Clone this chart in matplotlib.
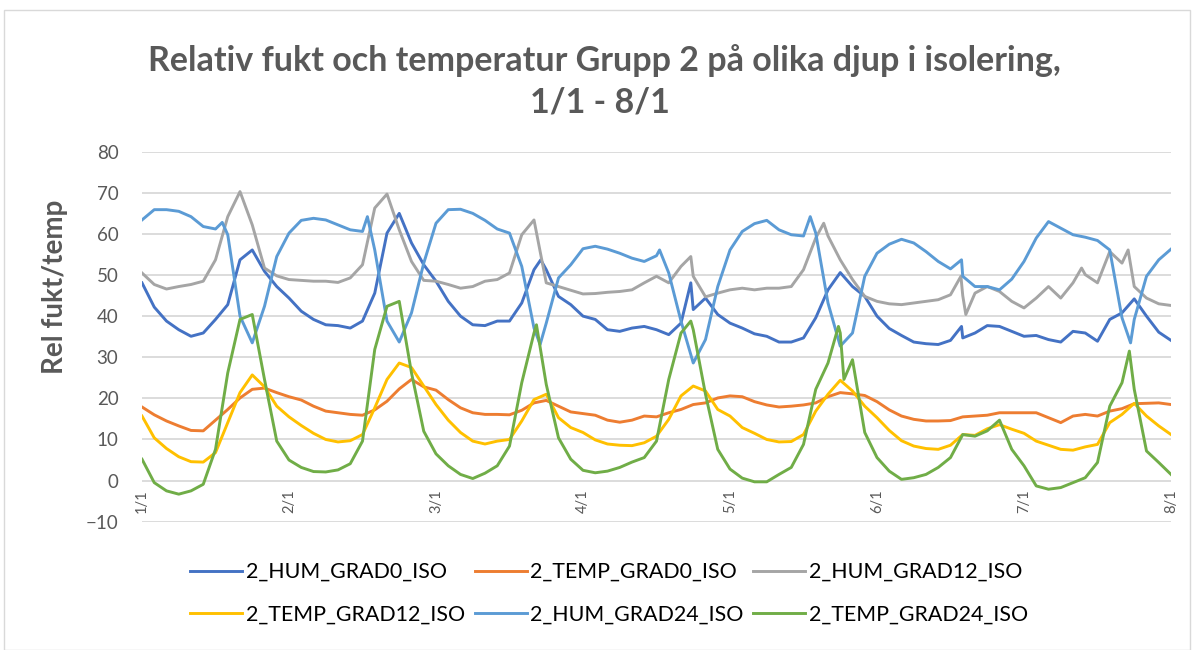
import numpy as np
import matplotlib.pyplot as plt
from matplotlib.patches import Rectangle

plt.rcParams['font.family'] = ['Lato', 'DejaVu Sans']

# hours from 1/1 00:00, one reading every 2 hours
hours = np.arange(0, 169, 2)
day_ticks = np.arange(0, 169, 24)
day_labels = ['1/1', '2/1', '3/1', '4/1', '5/1', '6/1', '7/1', '8/1']

hum_grad0 = [48.1, 42.2, 38.8, 36.7, 35.1, 35.9, 39.2, 42.8, 53.7, 56.1, 50.9, 47.2,
             44.4, 41.2, 39.2, 37.9, 37.7, 37.1, 38.8, 45.6, 60.2, 65.0, 57.8, 52.5,
             48.5, 43.6, 40.0, 37.9, 37.7, 38.8, 38.8, 43.2, 51.3, 51.3, 44.8, 42.8,
             40.0, 39.2, 36.7, 36.3, 37.1, 37.5, 36.7, 35.5, 38.3, 41.6, 44.4, 40.4,
             38.3, 37.1, 35.7, 35.1, 33.7, 33.7, 34.7, 39.6, 46.4, 50.6, 47.2, 44.8,
             40.0, 37.0, 35.3, 33.7, 33.3, 33.1, 34.1, 34.7, 35.9, 37.7, 37.5, 36.3,
             35.1, 35.3, 34.3, 33.7, 36.3, 35.9, 33.9, 39.2, 40.8, 44.2, 40.0, 36.1,
             34.1]
temp_grad0 = [17.9, 16.0, 14.5, 13.3, 12.2, 12.1, 14.7, 17.3, 20.1, 22.2, 22.5, 21.4,
              20.4, 19.6, 18.1, 16.9, 16.5, 16.1, 15.9, 17.2, 19.3, 22.3, 24.6, 22.8,
              22.0, 19.7, 17.7, 16.5, 16.1, 16.1, 16.0, 17.1, 18.9, 19.5, 18.1, 16.7,
              16.3, 15.9, 14.7, 14.2, 14.7, 15.7, 15.5, 16.5, 17.3, 18.5, 18.9, 20.1,
              20.6, 20.4, 19.2, 18.4, 17.9, 18.1, 18.4, 18.9, 20.4, 21.4, 21.1, 20.7,
              19.2, 17.2, 15.7, 14.9, 14.5, 14.5, 14.6, 15.5, 15.7, 15.9, 16.5, 16.5,
              16.5, 16.5, 15.3, 14.1, 15.7, 16.1, 15.7, 16.9, 17.5, 18.7, 18.8, 18.9,
              18.5]
hum_grad12 = [50.5, 47.7, 46.6, 47.2, 47.7, 48.5, 53.7, 64.2, 70.3, 62.2, 51.7, 49.8,
              48.9, 48.7, 48.5, 48.5, 48.2, 49.3, 52.5, 66.3, 69.7, 61.0, 53.3, 48.7,
              48.5, 47.7, 46.8, 47.2, 48.5, 48.9, 50.5, 59.8, 63.4, 48.1, 47.2, 46.3,
              45.4, 45.5, 45.8, 46.0, 46.4, 48.1, 49.7, 48.1, 52.1, 49.7, 44.7, 45.6,
              46.4, 46.8, 46.4, 46.8, 46.8, 47.2, 51.3, 59.0, 59.5, 53.7, 48.9, 44.8,
              43.6, 43.0, 42.8, 43.2, 43.6, 44.0, 45.2, 45.0, 45.6, 47.2, 46.0, 43.6,
              42.0, 44.4, 47.2, 44.4, 48.1, 50.1, 48.1, 55.7, 52.9, 47.2, 44.4, 43.0,
              42.6]
temp_grad12 = [15.7, 10.4, 7.8, 5.8, 4.6, 4.5, 6.8, 14.1, 21.4, 25.7, 22.8, 18.1,
               15.5, 13.4, 11.5, 10.0, 9.4, 9.7, 11.2, 17.7, 24.6, 28.6, 27.5, 23.0,
               18.5, 14.7, 11.7, 9.6, 8.9, 9.6, 10.0, 14.5, 19.7, 21.0, 15.3, 12.9,
               11.7, 9.9, 8.9, 8.6, 8.5, 9.2, 10.8, 14.9, 20.6, 23.0, 21.8, 17.3,
               15.7, 12.9, 11.5, 10.0, 9.4, 9.5, 11.2, 16.9, 21.0, 24.4, 21.8, 18.1,
               15.3, 12.2, 9.7, 8.4, 7.8, 7.6, 8.6, 11.2, 11.0, 12.6, 13.6, 12.5,
               11.5, 9.6, 8.6, 7.6, 7.4, 8.2, 8.8, 14.1, 16.1, 18.8, 15.7, 13.3,
               11.2]
hum_grad24 = [63.4, 65.9, 65.9, 65.5, 64.2, 61.8, 61.2, 59.8, 40.0, 33.5, 42.4, 54.5,
              60.2, 63.3, 63.8, 63.4, 62.2, 61.0, 60.6, 56.1, 38.8, 33.7, 40.8, 52.9,
              62.6, 65.9, 66.0, 65.0, 63.3, 61.2, 60.2, 52.1, 37.1, 38.3, 49.3, 52.5,
              56.4, 57.0, 56.3, 55.3, 54.1, 53.3, 54.7, 50.5, 38.8, 28.6, 34.3, 47.2,
              56.1, 60.6, 62.5, 63.3, 61.0, 59.8, 59.5, 60.2, 43.2, 32.7, 35.9, 49.7,
              55.3, 57.5, 58.7, 57.8, 55.7, 53.3, 51.5, 49.7, 47.2, 47.2, 46.4, 49.0,
              53.3, 59.0, 63.0, 61.4, 59.8, 59.2, 58.4, 56.1, 39.6, 39.2, 49.7, 53.7,
              56.3]
temp_grad24 = [5.2, -0.5, -2.5, -3.3, -2.5, -0.9, 7.6, 26.2, 39.2, 40.4, 24.6, 9.6,
               5.0, 3.2, 2.2, 2.1, 2.6, 4.1, 9.6, 31.9, 42.4, 43.6, 26.2, 12.0,
               6.5, 3.6, 1.5, 0.5, 1.8, 3.6, 8.4, 23.8, 35.9, 23.4, 10.4, 5.2,
               2.5, 1.9, 2.3, 3.2, 4.5, 5.6, 9.6, 24.6, 35.9, 36.7, 21.0, 7.6,
               2.8, 0.6, -0.3, -0.3, 1.5, 3.2, 8.8, 22.2, 28.6, 35.9, 29.4, 11.7,
               5.6, 2.3, 0.3, 0.7, 1.5, 3.2, 5.6, 11.2, 10.8, 12.1, 14.7, 7.6,
               3.6, -1.3, -2.1, -1.7, -0.5, 0.7, 4.4, 18.1, 23.8, 22.2, 7.2, 4.4,
               1.5]

# sharp peaks/dips that fall between the 2-hour readings (hour, value)
hum_grad0_spikes = [(65.1, 53.7), (89.6, 48.1), (133.8, 37.5)]
temp_grad0_spikes = []
hum_grad12_spikes = [(89.6, 54.5), (111.3, 62.6), (133.7, 49.7), (134.5, 40.4),
                     (153.4, 51.7), (161.0, 56.1)]
temp_grad12_spikes = []
hum_grad24_spikes = [(13.1, 62.8), (36.8, 64.2), (65.0, 33.1), (84.5, 56.1),
                     (109.1, 64.2), (133.8, 53.7), (161.4, 33.5)]
temp_grad24_spikes = [(64.4, 37.9), (89.6, 38.8), (113.7, 37.5), (114.6, 24.6),
                      (161.2, 31.5)]

series = [
    ('2_HUM_GRAD0_ISO', hum_grad0, hum_grad0_spikes, '#4472C4'),
    ('2_TEMP_GRAD0_ISO', temp_grad0, temp_grad0_spikes, '#ED7D31'),
    ('2_HUM_GRAD12_ISO', hum_grad12, hum_grad12_spikes, '#A5A5A5'),
    ('2_TEMP_GRAD12_ISO', temp_grad12, temp_grad12_spikes, '#FFC000'),
    ('2_HUM_GRAD24_ISO', hum_grad24, hum_grad24_spikes, '#5B9BD5'),
    ('2_TEMP_GRAD24_ISO', temp_grad24, temp_grad24_spikes, '#70AD47'),
]


def merged(vals, spikes):
    t = np.concatenate([hours, [h for h, v in spikes]])
    y = np.concatenate([vals, [v for h, v in spikes]])
    idx = np.argsort(t, kind='stable')
    return t[idx], y[idx]


W, H = 1198, 650
fig = plt.figure(figsize=(W / 100, H / 100), dpi=100)
ax = fig.add_axes([142 / W, 1 - 521.7 / H, (1171 - 142) / W, (521.7 - 151.7) / H])

lines = []
for name, vals, spikes, col in series:
    t, y = merged(vals, spikes)
    ln, = ax.plot(t, y, color=col, lw=2.1, label=name, solid_joinstyle='round')
    lines.append(ln)

ax.set_xlim(0, 168)
ax.set_ylim(-10, 80)
ax.set_yticks(np.arange(-10, 81, 10))
ax.grid(axis='y', color='#d9d9d9', lw=1.3)
ax.set_axisbelow(True)
for s in ax.spines.values():
    s.set_visible(False)
ax.spines['bottom'].set_position(('data', 0))
ax.set_xticks(day_ticks)
ax.set_xticklabels(day_labels, rotation=90)
ax.tick_params(axis='x', length=0, pad=6, labelsize=10.5, labelcolor='#595959')
ax.tick_params(axis='y', length=0, pad=17, labelsize=13.5, labelcolor='#595959')

fig.text(604 / W, 1 - 71 / H, 'Relativ fukt och temperatur Grupp 2 på olika djup i isolering,',
         ha='center', va='baseline', fontsize=24.5, fontweight='bold', color='#595959')
fig.text(600 / W, 1 - 112 / H, '1/1 - 8/1',
         ha='center', va='baseline', fontsize=24.5, fontweight='bold', color='#595959')
fig.text(55 / W, 1 - 287 / H, 'Rel fukt/temp', rotation=90, ha='center', va='center',
         fontsize=20, fontweight='bold', color='#595959')

# excel fills the legend row by row
order = [0, 3, 1, 4, 2, 5]
fig.legend([lines[i] for i in order], [series[i][0] for i in order], ncol=3,
           loc='center', bbox_to_anchor=(609 / W, 1 - 593.5 / H), frameon=False,
           fontsize=15.4, handlelength=2.43, handletextpad=0.15, columnspacing=0.47,
           labelspacing=1.07)

fig.patches.append(Rectangle((4 / W, 0), 1186 / W, 1 - 10 / H, transform=fig.transFigure,
                             fill=False, edgecolor='#d9d9d9', lw=1.0))

fig.savefig('out.png', dpi=100)
